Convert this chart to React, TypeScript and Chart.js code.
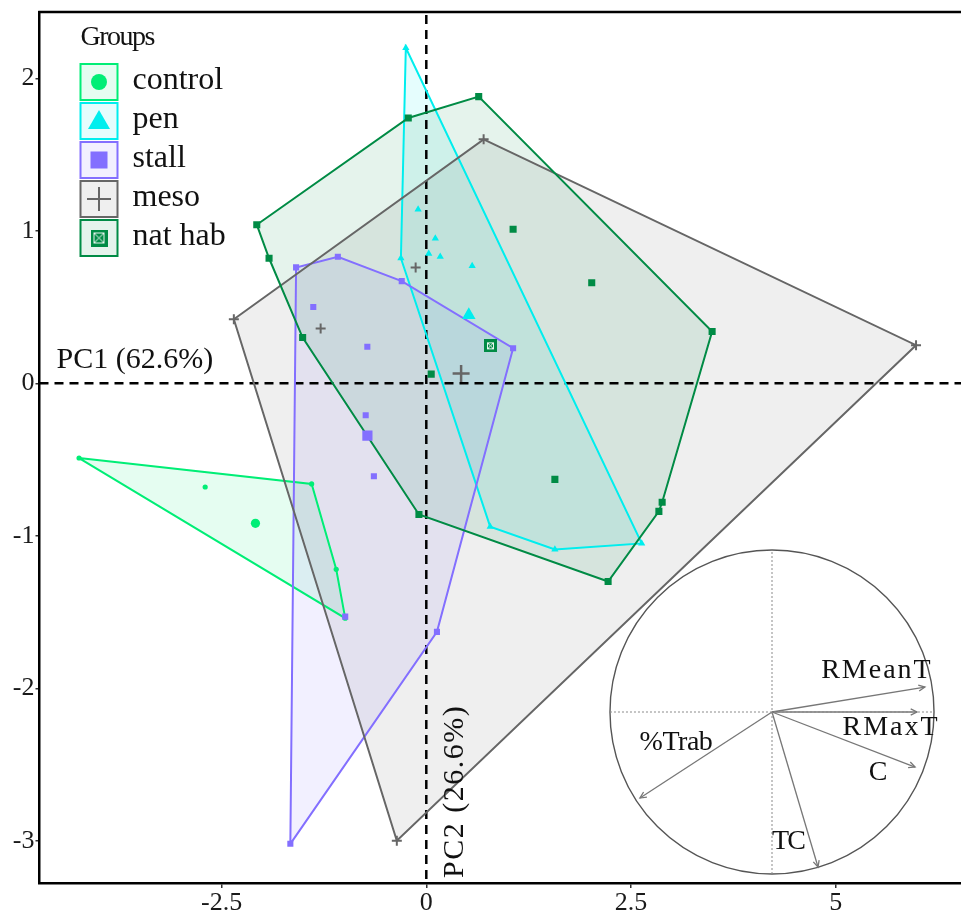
import React, { useEffect, useRef } from "react";
import { Chart, registerables } from "chart.js";
Chart.register(...registerables);

const FONT = "'Liberation Serif', 'Times New Roman', serif";

// ---- data (PC1 / PC2 scores per group) ----
const groups = ["control", "pen", "stall", "meso", "nat hab"];
const controlPC1 = [-4.24, -2.7, -1.4, -1.1, -0.99];
const controlPC2 = [-0.49, -0.68, -0.66, -1.22, -1.54];
const penPC1 = [-0.25, -0.31, -0.1, 0.11, 0.03, 0.17, 0.56, 0.78, 1.57, 2.63];
const penPC2 = [2.2, 0.82, 1.14, 0.95, 0.85, 0.83, 0.77, -0.94, -1.09, -1.05];
const stallPC1 = [-1.59, -1.08, -0.3, 1.06, -1.38, -0.72, -0.74, -0.64, 0.13, -1.66, -0.99];
const stallPC2 = [0.76, 0.83, 0.67, 0.23, 0.5, 0.24, -0.21, -0.61, -1.63, -3.02, -1.53];
const mesoPC1 = [-2.35, 0.7, 5.98, -0.36, -0.13, -1.29];
const mesoPC2 = [0.42, 1.6, 0.25, -3.0, 0.76, 0.36];
const natPC1 = [-2.07, -1.92, -1.51, -0.22, 0.64, 1.06, 2.02, 3.49, 2.88, 2.84, 2.22, -0.09, 0.06, 1.57];
const natPC2 = [1.04, 0.82, 0.3, 1.74, 1.88, 1.01, 0.66, 0.34, -0.78, -0.84, -1.3, -0.86, 0.06, -0.63];

const xTicks = [-2.5, 0, 2.5, 5];
const yTicks = [-3, -2, -1, 0, 1, 2];
const xLabel = "PC1 (62.6%)";
const yLabel = "PC2 (26.6%)";
const legendTitle = "Groups";

// correlation circle
const variables = ["RMeanT", "RMaxT", "C", "TC", "%Trab"];
const varPC1 = [0.944, 0.895, 0.883, 0.284, -0.815];
const varPC2 = [0.154, 0.0, -0.34, -0.957, -0.531];

// ---- styles ----
const groupPC1 = [controlPC1, penPC1, stallPC1, mesoPC1, natPC1];
const groupPC2 = [controlPC2, penPC2, stallPC2, mesoPC2, natPC2];
const colors = ["#00EE76", "#00EEEE", "#836FFF", "#666666", "#008B45"];
const fills = [
  "rgba(0,238,118,0.1)",
  "rgba(0,238,238,0.1)",
  "rgba(131,111,255,0.1)",
  "rgba(102,102,102,0.1)",
  "rgba(0,139,69,0.1)",
];
const shapes = ["circle", "triangle", "rect", "cross", "rect"];
const smallR = [2.6, 4.2, 4.3, 5, 5];
const bigR = [4.6, 7.8, 7.2, 8.5, 6.5];
const labelStyle = [
  { dx: -48, dy: -9, ls: 2 },
  { dx: -26, dy: 23, ls: 2 },
  { dx: -37, dy: 13, ls: 0 },
  { dx: -30, dy: -18, ls: -2 },
  { dx: 36, dy: -48, ls: -0.5 },
];

function natIcon(size: number) {
  const c = document.createElement("canvas");
  c.width = size;
  c.height = size;
  const g = c.getContext("2d")!;
  g.fillStyle = "#008B45";
  g.fillRect(0, 0, size, size);
  g.strokeStyle = "rgba(255,255,255,0.9)";
  g.lineWidth = 1;
  const m = Math.round(size * 0.2) + 0.5;
  g.strokeRect(m, m, size - 2 * m, size - 2 * m);
  g.beginPath();
  g.moveTo(m, m);
  g.lineTo(size - m, size - m);
  g.moveTo(size - m, m);
  g.lineTo(m, size - m);
  g.stroke();
  return c;
}

type P = { x: number; y: number };
function convexHull(pts: P[]): P[] {
  const p = pts.slice().sort((a, b) => a.x - b.x || a.y - b.y);
  const cr = (o: P, a: P, b: P) => (a.x - o.x) * (b.y - o.y) - (a.y - o.y) * (b.x - o.x);
  const lower: P[] = [];
  for (const q of p) {
    while (lower.length >= 2 && cr(lower[lower.length - 2], lower[lower.length - 1], q) <= 0) lower.pop();
    lower.push(q);
  }
  const upper: P[] = [];
  for (const q of p.slice().reverse()) {
    while (upper.length >= 2 && cr(upper[upper.length - 2], upper[upper.length - 1], q) <= 0) upper.pop();
    upper.push(q);
  }
  lower.pop();
  upper.pop();
  return lower.concat(upper);
}

function withSpacing(ctx: CanvasRenderingContext2D, ls: number, fn: () => void) {
  const c: any = ctx;
  const prev = c.letterSpacing;
  c.letterSpacing = ls + "px";
  fn();
  c.letterSpacing = prev || "0px";
}

export default function App() {
  const mainRef = useRef<HTMLCanvasElement>(null);
  const insetRef = useRef<HTMLCanvasElement>(null);

  useEffect(() => {
    const pts: P[][] = groupPC1.map((xs, i) => xs.map((x, j) => ({ x, y: groupPC2[i][j] })));
    const hulls = pts.map(convexHull);
    const centroids = pts.map((g) => ({
      x: g.reduce((s, p) => s + p.x, 0) / g.length,
      y: g.reduce((s, p) => s + p.y, 0) / g.length,
    }));
    const bigNat = natIcon(13);
    const legendNat = natIcon(17);

    const datasets: any[] = [];
    groups.forEach((g, i) => {
      datasets.push({
        label: g + " hull",
        data: [...hulls[i], hulls[i][0]],
        showLine: true,
        borderColor: colors[i],
        borderWidth: 2,
        pointRadius: 0,
        fill: false,
        order: 20 - i,
      });
    });
    groups.forEach((g, i) => {
      datasets.push({
        label: g,
        data: pts[i],
        pointStyle: shapes[i],
        pointRadius: smallR[i],
        backgroundColor: colors[i],
        borderColor: colors[i],
        borderWidth: shapes[i] === "cross" ? 2 : 0,
        order: 10 - i,
      });
    });
    groups.forEach((g, i) => {
      datasets.push({
        label: g + " mean",
        data: [centroids[i]],
        pointStyle: i === 4 ? bigNat : shapes[i],
        pointRadius: bigR[i],
        backgroundColor: colors[i],
        borderColor: colors[i],
        borderWidth: shapes[i] === "cross" ? 2.5 : 0,
        order: 1,
      });
    });

    const hullFill = {
      id: "hullFill",
      beforeDatasetsDraw(chart: any) {
        const { ctx, chartArea: a, scales } = chart;
        const xs = scales.x, ys = scales.y;
        ctx.save();
        ctx.beginPath();
        ctx.rect(a.left, a.top, a.right - a.left, a.bottom - a.top);
        ctx.clip();
        hulls.forEach((h, i) => {
          ctx.beginPath();
          h.forEach((p, j) => {
            const px = xs.getPixelForValue(p.x), py = ys.getPixelForValue(p.y);
            if (j) ctx.lineTo(px, py);
            else ctx.moveTo(px, py);
          });
          ctx.closePath();
          ctx.fillStyle = fills[i];
          ctx.fill();
        });
        const x0 = xs.getPixelForValue(0), y0 = ys.getPixelForValue(0);
        ctx.setLineDash([9, 6]);
        ctx.lineWidth = 2.5;
        ctx.strokeStyle = "#000";
        ctx.beginPath();
        ctx.moveTo(a.left, y0);
        ctx.lineTo(a.right, y0);
        ctx.moveTo(x0, a.top + 3);
        ctx.lineTo(x0, a.bottom);
        ctx.stroke();
        ctx.restore();
      },
    };

    const annotations = {
      id: "annotations",
      afterDraw(chart: any) {
        const { ctx, chartArea: a, scales } = chart;
        const xs = scales.x, ys = scales.y;
        ctx.save();
        // top frame line
        ctx.strokeStyle = "#000";
        ctx.lineWidth = 2.5;
        ctx.beginPath();
        ctx.moveTo(a.left - 1.25, a.top);
        ctx.lineTo(a.right, a.top);
        ctx.stroke();
        // axis titles
        ctx.fillStyle = "#111";
        ctx.textBaseline = "alphabetic";
        ctx.font = `30px ${FONT}`;
        ctx.textAlign = "left";
        ctx.fillText(xLabel, a.left + 17, ys.getPixelForValue(0) - 15);
        ctx.save();
        ctx.translate(xs.getPixelForValue(0) + 37, a.bottom - 5);
        ctx.rotate(-Math.PI / 2);
        withSpacing(ctx, 1.5, () => ctx.fillText(yLabel, 0, 0));
        ctx.restore();
        // legend
        ctx.font = `28px ${FONT}`;
        withSpacing(ctx, -1.5, () => ctx.fillText(legendTitle, a.left + 41, 45));
        ctx.font = `32px ${FONT}`;
        groups.forEach((g, i) => {
          const bx = a.left + 41, by = 64 + 39 * i, bw = 37, bh = 36;
          const cx = bx + bw / 2, cy = by + bh / 2;
          ctx.fillStyle = fills[i];
          ctx.fillRect(bx, by, bw, bh);
          ctx.strokeStyle = colors[i];
          ctx.lineWidth = 2;
          ctx.strokeRect(bx, by, bw, bh);
          ctx.fillStyle = colors[i];
          if (i === 0) {
            ctx.beginPath();
            ctx.arc(cx, cy, 8, 0, Math.PI * 2);
            ctx.fill();
          } else if (i === 1) {
            ctx.beginPath();
            ctx.moveTo(cx, cy - 11);
            ctx.lineTo(cx + 11, cy + 8);
            ctx.lineTo(cx - 11, cy + 8);
            ctx.closePath();
            ctx.fill();
          } else if (i === 2) {
            ctx.fillRect(cx - 8.5, cy - 8.5, 17, 17);
          } else if (i === 3) {
            ctx.lineWidth = 2;
            ctx.beginPath();
            ctx.moveTo(cx - 12, cy);
            ctx.lineTo(cx + 12, cy);
            ctx.moveTo(cx, cy - 12);
            ctx.lineTo(cx, cy + 12);
            ctx.stroke();
          } else {
            ctx.drawImage(legendNat, cx - 8.5, cy - 8.5);
          }
          ctx.fillStyle = "#111";
          ctx.fillText(g, a.left + 93, by + 25);
        });
        ctx.restore();
      },
    };

    const main = new Chart(mainRef.current!, {
      type: "scatter",
      data: { datasets },
      options: {
        responsive: false,
        maintainAspectRatio: false,
        devicePixelRatio: 1,
        animation: false,
        events: [],
        layout: { autoPadding: false, padding: { top: 12, left: 0, right: 0, bottom: 0 } },
        plugins: { legend: { display: false }, tooltip: { enabled: false } },
        scales: {
          x: {
            type: "linear",
            min: -4.723,
            max: 6.529,
            grid: { display: true, drawOnChartArea: false, drawTicks: true, tickLength: 5, color: "#333", lineWidth: 1.5 },
            border: { display: true, color: "#000", width: 2.5 },
            ticks: {
              font: { family: FONT, size: 26 },
              color: "#1a1a1a",
              padding: 0,
              callback: (v: any) => String(v),
            },
            afterBuildTicks: (s: any) => {
              s.ticks = xTicks.map((v) => ({ value: v }));
            },
            afterFit: (s: any) => {
              s.height = 31;
              s.paddingLeft = 0;
              s.paddingRight = 0;
              s.paddingTop = 0;
              s.paddingBottom = 0;
            },
          },
          y: {
            type: "linear",
            min: -3.277,
            max: 2.435,
            grid: { display: true, drawOnChartArea: false, drawTicks: true, tickLength: 4, color: "#333", lineWidth: 1.5 },
            border: { display: true, color: "#000", width: 2.5 },
            ticks: {
              font: { family: FONT, size: 26 },
              color: "#1a1a1a",
              padding: 1,
              callback: (v: any) => String(v),
            },
            afterBuildTicks: (s: any) => {
              s.ticks = yTicks.map((v) => ({ value: v }));
            },
            afterFit: (s: any) => {
              s.width = 39.5;
              s.paddingLeft = 0;
              s.paddingRight = 0;
              s.paddingTop = 0;
              s.paddingBottom = 0;
            },
          },
        },
      } as any,
      plugins: [hullFill, annotations],
    });

    // ---- inset correlation circle ----
    const insetDatasets: any[] = [
      {
        data: [{ x: -1, y: 0 }, { x: 1, y: 0 }],
        showLine: true,
        borderColor: "#8a8a8a",
        borderDash: [2, 2],
        borderWidth: 1,
        pointRadius: 0,
      },
      {
        data: [{ x: 0, y: -1 }, { x: 0, y: 1 }],
        showLine: true,
        borderColor: "#8a8a8a",
        borderDash: [2, 2],
        borderWidth: 1,
        pointRadius: 0,
      },
    ];
    variables.forEach((v, i) => {
      insetDatasets.push({
        label: v,
        data: [{ x: 0, y: 0 }, { x: varPC1[i], y: varPC2[i] }],
        showLine: true,
        borderColor: "#777",
        borderWidth: 1.3,
        pointRadius: 0,
      });
    });
    const insetDraw = {
      id: "insetDraw",
      beforeDatasetsDraw(chart: any) {
        const { ctx, scales } = chart;
        const xs = scales.x, ys = scales.y;
        const cx = xs.getPixelForValue(0), cy = ys.getPixelForValue(0);
        const r = xs.getPixelForValue(1) - cx;
        ctx.save();
        ctx.strokeStyle = "#555";
        ctx.lineWidth = 1.4;
        ctx.beginPath();
        ctx.arc(cx, cy, r, 0, Math.PI * 2);
        ctx.stroke();
        ctx.restore();
      },
      afterDatasetsDraw(chart: any) {
        const { ctx, scales } = chart;
        const xs = scales.x, ys = scales.y;
        const cx = xs.getPixelForValue(0), cy = ys.getPixelForValue(0);
        ctx.save();
        ctx.strokeStyle = "#777";
        ctx.lineWidth = 1.3;
        variables.forEach((v, i) => {
          const tx = xs.getPixelForValue(varPC1[i]), ty = ys.getPixelForValue(varPC2[i]);
          const ang = Math.atan2(ty - cy, tx - cx);
          const L = 7, w = 0.45;
          ctx.beginPath();
          ctx.moveTo(tx - L * Math.cos(ang - w), ty - L * Math.sin(ang - w));
          ctx.lineTo(tx, ty);
          ctx.lineTo(tx - L * Math.cos(ang + w), ty - L * Math.sin(ang + w));
          ctx.stroke();
        });
        ctx.fillStyle = "#111";
        ctx.font = `28px ${FONT}`;
        ctx.textAlign = "center";
        ctx.textBaseline = "alphabetic";
        variables.forEach((v, i) => {
          const tx = xs.getPixelForValue(varPC1[i]), ty = ys.getPixelForValue(varPC2[i]);
          const st = labelStyle[i];
          withSpacing(ctx, st.ls, () => ctx.fillText(v, tx + st.dx, ty + st.dy));
        });
        ctx.restore();
      },
    };
    const inset = new Chart(insetRef.current!, {
      type: "scatter",
      data: { datasets: insetDatasets },
      options: {
        responsive: false,
        maintainAspectRatio: false,
        devicePixelRatio: 1,
        animation: false,
        events: [],
        layout: { autoPadding: false, padding: 0 },
        plugins: { legend: { display: false }, tooltip: { enabled: false } },
        scales: {
          x: { type: "linear", min: -1.111, max: 1.111, display: false },
          y: { type: "linear", min: -1.111, max: 1.111, display: false },
        },
      } as any,
      plugins: [insetDraw],
    });

    return () => {
      main.destroy();
      inset.destroy();
    };
  }, []);

  return (
    <div style={{ position: "absolute", left: 0, top: 0, width: 961, height: 914, background: "#fff" }}>
      <canvas
        ref={mainRef}
        width={961}
        height={914}
        style={{ position: "absolute", left: 0, top: 0, width: 961, height: 914 }}
      />
      <canvas
        ref={insetRef}
        width={360}
        height={360}
        style={{ position: "absolute", left: 592, top: 532, width: 360, height: 360 }}
      />
    </div>
  );
}
